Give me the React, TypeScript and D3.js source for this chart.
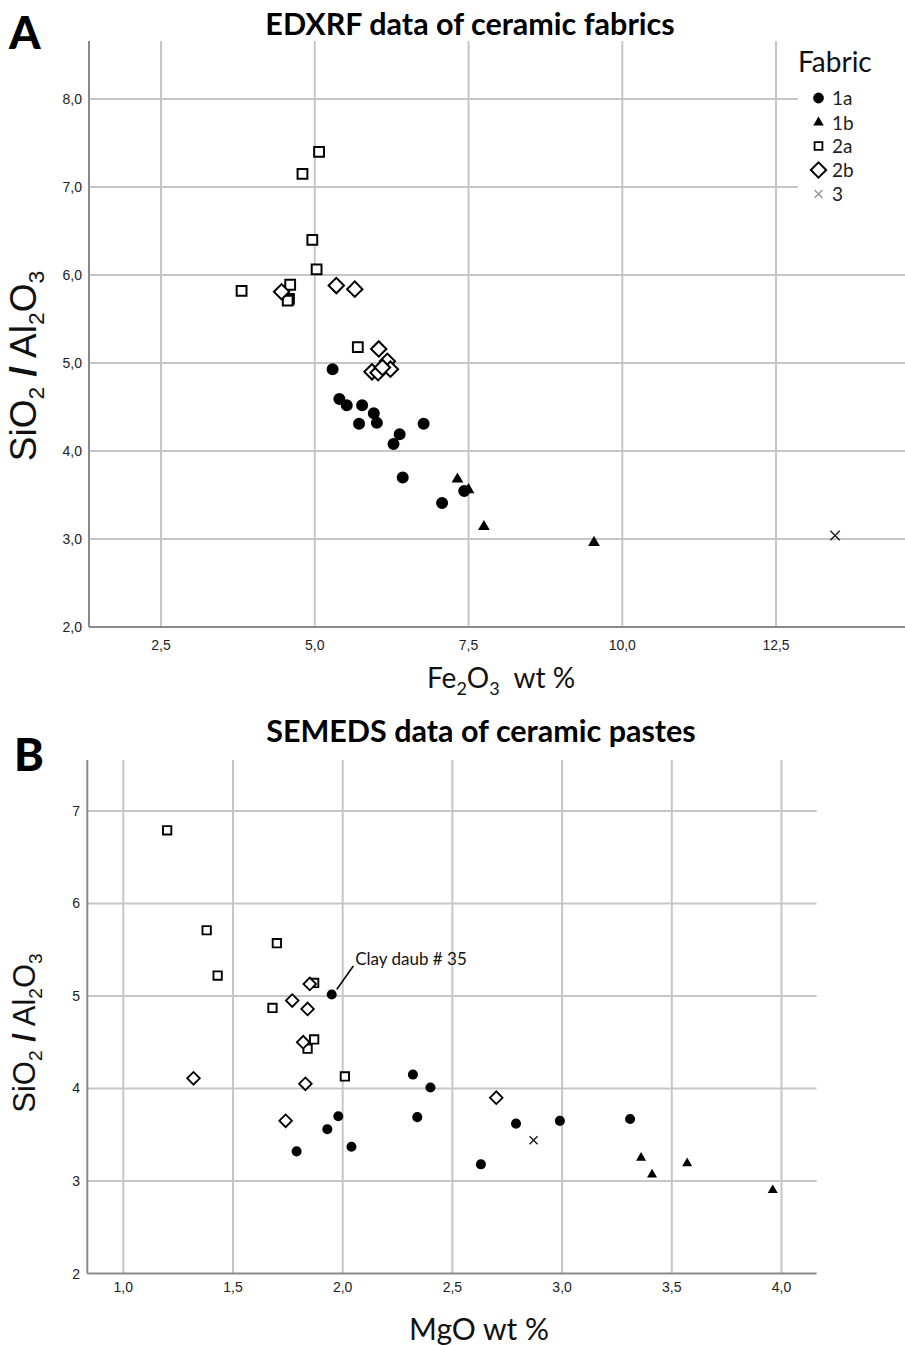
import React from "react";
import * as d3 from "d3";

// ---------- Data ----------
const fabrics = ["1a", "1b", "2a", "2b", "3"];

// Panel A: EDXRF, x = Fe2O3 wt %, y = SiO2/Al2O3
const a1aX = [5.29, 5.40, 5.52, 5.77, 5.96, 5.72, 6.01, 6.77, 6.38, 6.28, 6.43, 7.07, 7.43];
const a1aY = [4.93, 4.59, 4.52, 4.52, 4.43, 4.31, 4.32, 4.31, 4.19, 4.08, 3.70, 3.41, 3.545];
const a1bX = [7.32, 7.50, 7.75, 9.54];
const a1bY = [3.68, 3.56, 3.14, 2.96];
const a2aX = [5.07, 4.80, 4.96, 5.03, 3.81, 4.60, 4.58, 4.56, 5.70];
const a2aY = [7.40, 7.15, 6.40, 6.065, 5.82, 5.89, 5.73, 5.71, 5.18];
const a2bX = [4.46, 5.35, 5.65, 6.04, 6.18, 6.23, 5.93, 6.03, 6.10];
const a2bY = [5.81, 5.88, 5.84, 5.16, 5.02, 4.93, 4.90, 4.89, 4.95];
const a3X = [13.46];
const a3Y = [3.04];

// Panel B: SEMEDS, x = MgO wt %, y = SiO2/Al2O3
const b1aX = [1.95, 2.32, 2.40, 1.98, 1.93, 2.04, 1.79, 2.34, 2.79, 2.99, 2.63, 3.31];
const b1aY = [5.015, 4.15, 4.01, 3.70, 3.56, 3.37, 3.32, 3.69, 3.62, 3.65, 3.18, 3.67];
const b1bX = [3.36, 3.41, 3.57, 3.96];
const b1bY = [3.25, 3.07, 3.19, 2.90];
const b2aX = [1.20, 1.38, 1.43, 1.70, 1.68, 1.87, 1.87, 1.84, 2.01];
const b2aY = [6.79, 5.71, 5.22, 5.57, 4.87, 5.14, 4.53, 4.43, 4.13];
const b2bX = [1.77, 1.84, 1.85, 1.82, 1.32, 1.83, 1.74, 2.70];
const b2bY = [4.95, 4.86, 5.13, 4.50, 4.11, 4.05, 3.65, 3.90];
const b3X = [2.87];
const b3Y = [3.44];

const aXTicks = [2.5, 5.0, 7.5, 10.0, 12.5];
const aYTicks = [2, 3, 4, 5, 6, 7, 8];
const bXTicks = [1.0, 1.5, 2.0, 2.5, 3.0, 3.5, 4.0];
const bYTicks = [2, 3, 4, 5, 6, 7];

const annotation = "Clay daub # 35";

// ---------- Helpers ----------
const comma1 = (v: number) => d3.format(".1f")(v).replace(".", ",");
const intFmt = (v: number) => d3.format("d")(v);

const GRID = "#c6c6c6";
const AXIS = "#8a8a8a";
const SANS = "Lato, 'Open Sans', sans-serif";
const ARIAL = "'Liberation Sans', Arial, sans-serif";

type Kind = "1a" | "1b" | "2a" | "2b" | "3";

function Marker({ kind, x, y, s, light }: { kind: string; x: number; y: number; s: number; light?: boolean }) {
  if (kind === "1a") {
    const p = d3.symbol(d3.symbolCircle, 113 * s * s)()!;
    return <path d={p} transform={`translate(${x},${y})`} fill="#000" />;
  }
  if (kind === "1b") {
    const p = d3.symbol(d3.symbolTriangle, 60 * s * s)()!;
    return <path d={p} transform={`translate(${x},${y})`} fill="#000" />;
  }
  if (kind === "2a") {
    const p = d3.symbol(d3.symbolSquare, 96 * s * s)()!;
    return <path d={p} transform={`translate(${x},${y})`} fill="#fff" stroke="#000" strokeWidth={2 * Math.min(1, s + 0.1)} />;
  }
  if (kind === "2b") {
    const p = d3.symbol(d3.symbolSquare, 118 * s * s)()!;
    return <path d={p} transform={`translate(${x},${y}) rotate(45)`} fill="#fff" stroke="#000" strokeWidth={2 * Math.min(1, s + 0.1)} />;
  }
  const p = d3.symbol(d3.symbolX, 60 * s * s)()!;
  return <path d={p} transform={`translate(${x},${y})`} fill="none" stroke={light ? "#9a9a9a" : "#222"} strokeWidth={1.5} />;
}

function YLabel({ x, y, size }: { x: number; y: number; size: number }) {
  const sub = size * 0.62;
  const d = size * 0.22;
  return (
    <text transform={`translate(${x},${y}) rotate(-90)`} textAnchor="middle" fontFamily={ARIAL} fontSize={size} fill="#111">
      SiO<tspan fontSize={sub} dy={d}>2</tspan>
      <tspan dy={-d}> </tspan>
      <tspan fontWeight="bold">/</tspan>
      <tspan> Al</tspan>
      <tspan fontSize={sub} dy={d}>2</tspan>
      <tspan dy={-d}>O</tspan>
      <tspan fontSize={sub} dy={d}>3</tspan>
    </text>
  );
}

function Points({ xs, ys, kind, sx, sy, s }: { xs: number[]; ys: number[]; kind: Kind; sx: any; sy: any; s: number }) {
  return (
    <g>
      {xs.map((v, i) => (
        <Marker key={i} kind={kind} x={sx(v)} y={sy(ys[i])} s={s} />
      ))}
    </g>
  );
}

export default function App() {
  const xA = d3.scaleLinear().domain([1.329, 14.597]).range([89, 905]);
  const yA = d3.scaleLinear().domain([2, 8.66]).range([627, 41]);
  const xB = d3.scaleLinear().domain([0.836, 4.16]).range([87.3, 816.6]);
  const yB = d3.scaleLinear().domain([2, 7.55]).range([1273.5, 760]);

  const legendRows = [98, 122.5, 146, 170, 194];

  const clayX = xB(b1aX[0]);
  const clayY = yB(b1aY[0]);

  return (
    <svg width={905} height={1345} style={{ position: "absolute", left: 0, top: 0, background: "#fff" }}>
      <rect x={0} y={0} width={905} height={1345} fill="#fff" />

      {/* ===== Panel A ===== */}
      <text x={9} y={49} fontFamily={SANS} fontWeight="900" fontSize={45} fill="#000">A</text>
      <text x={470} y={35} textAnchor="middle" fontFamily={SANS} fontWeight="bold" fontSize={30.5} fill="#000">
        EDXRF data of ceramic fabrics
      </text>

      {aXTicks.map((t) => (
        <line key={"ax" + t} x1={xA(t)} x2={xA(t)} y1={yA(8.66)} y2={yA(2)} stroke={GRID} strokeWidth={2} />
      ))}
      {aYTicks.filter((t) => t > 2).map((t) => (
        <line key={"ay" + t} x1={xA(1.329)} x2={xA(14.597)} y1={yA(t)} y2={yA(t)} stroke={GRID} strokeWidth={2} />
      ))}
      <line x1={xA(1.329)} x2={xA(1.329)} y1={yA(8.66)} y2={yA(2)} stroke={AXIS} strokeWidth={2} />
      <line x1={xA(1.329)} x2={xA(14.597)} y1={yA(2)} y2={yA(2)} stroke={AXIS} strokeWidth={2} />

      {aYTicks.map((t) => (
        <text key={"aytl" + t} x={82} y={yA(t) + 5} textAnchor="end" fontFamily={ARIAL} fontSize={14} fill="#222">
          {comma1(t)}
        </text>
      ))}
      {aXTicks.map((t) => (
        <text key={"axtl" + t} x={xA(t)} y={650} textAnchor="middle" fontFamily={ARIAL} fontSize={14} fill="#222">
          {comma1(t)}
        </text>
      ))}

      <YLabel x={36} y={366} size={37} />
      <text x={427} y={688} fontFamily={SANS} fontSize={28} fill="#111">
        Fe<tspan fontSize={18} dy={7}>2</tspan>
        <tspan dy={-7}>O</tspan>
        <tspan fontSize={18} dy={7}>3</tspan>
        <tspan dy={-7}>{"\u00a0 wt %"}</tspan>
      </text>

      <Points xs={a2aX} ys={a2aY} kind="2a" sx={xA} sy={yA} s={1} />
      <Points xs={a2bX} ys={a2bY} kind="2b" sx={xA} sy={yA} s={1} />
      <Points xs={a1aX} ys={a1aY} kind="1a" sx={xA} sy={yA} s={1} />
      <Points xs={a1bX} ys={a1bY} kind="1b" sx={xA} sy={yA} s={1} />
      <Points xs={a3X} ys={a3Y} kind="3" sx={xA} sy={yA} s={1} />

      {/* legend */}
      <rect x={798} y={42} width={107} height={190} fill="#fff" />
      <text x={798} y={72} fontFamily={SANS} fontSize={28} fill="#111">Fabric</text>
      {fabrics.map((f, i) => (
        <g key={"lg" + f}>
          {f === "3" ? (
            <Marker kind={f} x={818.5} y={legendRows[i]} s={0.85} light />
          ) : (
            <Marker kind={f} x={818.5} y={legendRows[i]} s={f === "2a" ? 0.8 : f === "2b" ? 1.0 : 0.9} />
          )}
          <text x={832} y={legendRows[i] + 7} fontFamily={SANS} fontSize={19} fill="#222">{f}</text>
        </g>
      ))}

      {/* ===== Panel B ===== */}
      <text x={14} y={771} fontFamily={SANS} fontWeight="900" fontSize={45} fill="#000">B</text>
      <text x={481} y={742} textAnchor="middle" fontFamily={SANS} fontWeight="bold" fontSize={30.5} fill="#000">
        SEMEDS data of ceramic pastes
      </text>

      {bXTicks.map((t) => (
        <line key={"bx" + t} x1={xB(t)} x2={xB(t)} y1={yB(7.55)} y2={yB(2)} stroke={GRID} strokeWidth={2} />
      ))}
      {bYTicks.filter((t) => t > 2).map((t) => (
        <line key={"by" + t} x1={xB(0.836)} x2={xB(4.16)} y1={yB(t)} y2={yB(t)} stroke={GRID} strokeWidth={2} />
      ))}
      <line x1={xB(0.836)} x2={xB(0.836)} y1={yB(7.55)} y2={yB(2)} stroke={AXIS} strokeWidth={2} />
      <line x1={xB(0.836)} x2={xB(4.16)} y1={yB(2)} y2={yB(2)} stroke={AXIS} strokeWidth={2} />

      {bYTicks.map((t) => (
        <text key={"bytl" + t} x={80} y={yB(t) + 5} textAnchor="end" fontFamily={ARIAL} fontSize={14} fill="#222">
          {intFmt(t)}
        </text>
      ))}
      {bXTicks.map((t) => (
        <text key={"bxtl" + t} x={xB(t)} y={1292} textAnchor="middle" fontFamily={ARIAL} fontSize={14} fill="#222">
          {comma1(t)}
        </text>
      ))}

      <YLabel x={35} y={1033} size={31} />
      <text x={479} y={1340} textAnchor="middle" fontFamily={SANS} fontSize={30} fill="#111">MgO wt %</text>

      <Points xs={b2aX} ys={b2aY} kind="2a" sx={xB} sy={yB} s={0.85} />
      <Points xs={b2bX} ys={b2bY} kind="2b" sx={xB} sy={yB} s={0.82} />
      <Points xs={b1aX} ys={b1aY} kind="1a" sx={xB} sy={yB} s={0.84} />
      <Points xs={b1bX} ys={b1bY} kind="1b" sx={xB} sy={yB} s={0.85} />
      <Points xs={b3X} ys={b3Y} kind="3" sx={xB} sy={yB} s={0.85} />

      <line x1={clayX + 5} y1={clayY - 5} x2={clayX + 21.6} y2={clayY - 28.6} stroke="#000" strokeWidth={1.5} />
      <text x={clayX + 23.5} y={clayY - 30} fontFamily={SANS} fontSize={17} fill="#111">{annotation}</text>
    </svg>
  );
}
